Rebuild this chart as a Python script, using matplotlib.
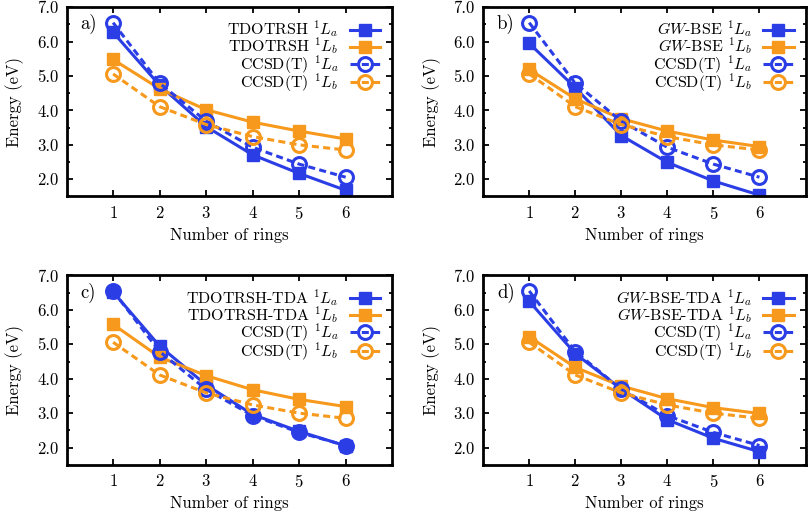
import matplotlib
matplotlib.use("Agg")
import matplotlib.pyplot as plt
from matplotlib.ticker import FormatStrFormatter, MultipleLocator

plt.rcParams['font.family'] = ['cmr10', 'DejaVu Serif']
plt.rcParams['mathtext.fontset'] = 'cm'
plt.rcParams['axes.formatter.use_mathtext'] = True

# data
rings = [1, 2, 3, 4, 5, 6]
ccsd_la = [6.55, 4.79, 3.69, 2.93, 2.44, 2.06]
ccsd_lb = [5.06, 4.11, 3.59, 3.24, 3.00, 2.85]

tdotrsh_la = [6.27, 4.73, 3.53, 2.71, 2.17, 1.68]
tdotrsh_lb = [5.48, 4.63, 4.02, 3.66, 3.40, 3.17]

gwbse_la = [5.95, 4.66, 3.27, 2.49, 1.95, 1.54]
gwbse_lb = [5.19, 4.34, 3.76, 3.40, 3.14, 2.95]

tdotrsh_tda_la = [6.52, 4.95, 3.82, 2.96, 2.47, 2.05]
tdotrsh_tda_lb = [5.58, 4.63, 4.09, 3.68, 3.40, 3.19]

gwbse_tda_la = [6.25, 4.73, 3.70, 2.81, 2.27, 1.88]
gwbse_tda_lb = [5.22, 4.33, 3.79, 3.42, 3.16, 2.99]

panels = [
    ("a)", "TDOTRSH", tdotrsh_la, tdotrsh_lb),
    ("b)", "$GW$-BSE", gwbse_la, gwbse_lb),
    ("c)", "TDOTRSH-TDA", tdotrsh_tda_la, tdotrsh_tda_lb),
    ("d)", "$GW$-BSE-TDA", gwbse_tda_la, gwbse_tda_lb),
]

blue = '#2b3ee6'
orange = '#f7991c'

fig = plt.figure(figsize=(8.12, 5.13), dpi=100)
positions = [
    [0.082, 0.617, 0.401, 0.369],
    [0.595, 0.617, 0.397, 0.369],
    [0.082, 0.094, 0.401, 0.369],
    [0.595, 0.094, 0.397, 0.369],
]

fs = 12
lw = 2.2
dash = (2.3, 1.4)

for pos, (tag, name, la, lb) in zip(positions, panels):
    ax = fig.add_axes(pos)
    ax.plot(rings, la, '-', color=blue, lw=lw, marker='s', ms=8.5,
            label=name + r' $^1L_a$')
    ax.plot(rings, lb, '-', color=orange, lw=lw, marker='s', ms=8.5,
            label=name + r' $^1L_b$')
    ax.plot(rings, ccsd_la, color=blue, lw=lw, dashes=dash, marker='o', ms=10,
            mfc='none', mew=2.2, label=r'CCSD(T) $^1L_a$')
    ax.plot(rings, ccsd_lb, color=orange, lw=lw, dashes=dash, marker='o', ms=10,
            mfc='none', mew=2.2, label=r'CCSD(T) $^1L_b$')

    ax.set_xlim(0, 7)
    ax.set_ylim(1.5, 7.0)
    ax.set_xticks(rings)
    ax.yaxis.set_major_locator(MultipleLocator(1.0))
    ax.yaxis.set_minor_locator(MultipleLocator(0.5))
    ax.yaxis.set_major_formatter(FormatStrFormatter('%.1f'))
    ax.tick_params(direction='in', top=True, right=True, length=4.5, width=1.3,
                   labelsize=fs, pad=6)
    ax.tick_params(which='minor', direction='in', right=True, length=2.5, width=1.3)
    for s in ax.spines.values():
        s.set_linewidth(2.0)

    ax.set_xlabel('Number of rings', fontsize=fs, labelpad=4)
    ax.set_ylabel('Energy (eV)', fontsize=fs, labelpad=9)
    ax.text(0.3, 6.5, tag, fontsize=13.5, ha='left', va='center')
    ax.legend(loc='upper right', frameon=False, markerfirst=False, fontsize=11.5,
              handlelength=1.9, handletextpad=0.7, labelspacing=-0.25,
              borderaxespad=0.45, borderpad=0.3)

fig.savefig('out.png', dpi=100)
